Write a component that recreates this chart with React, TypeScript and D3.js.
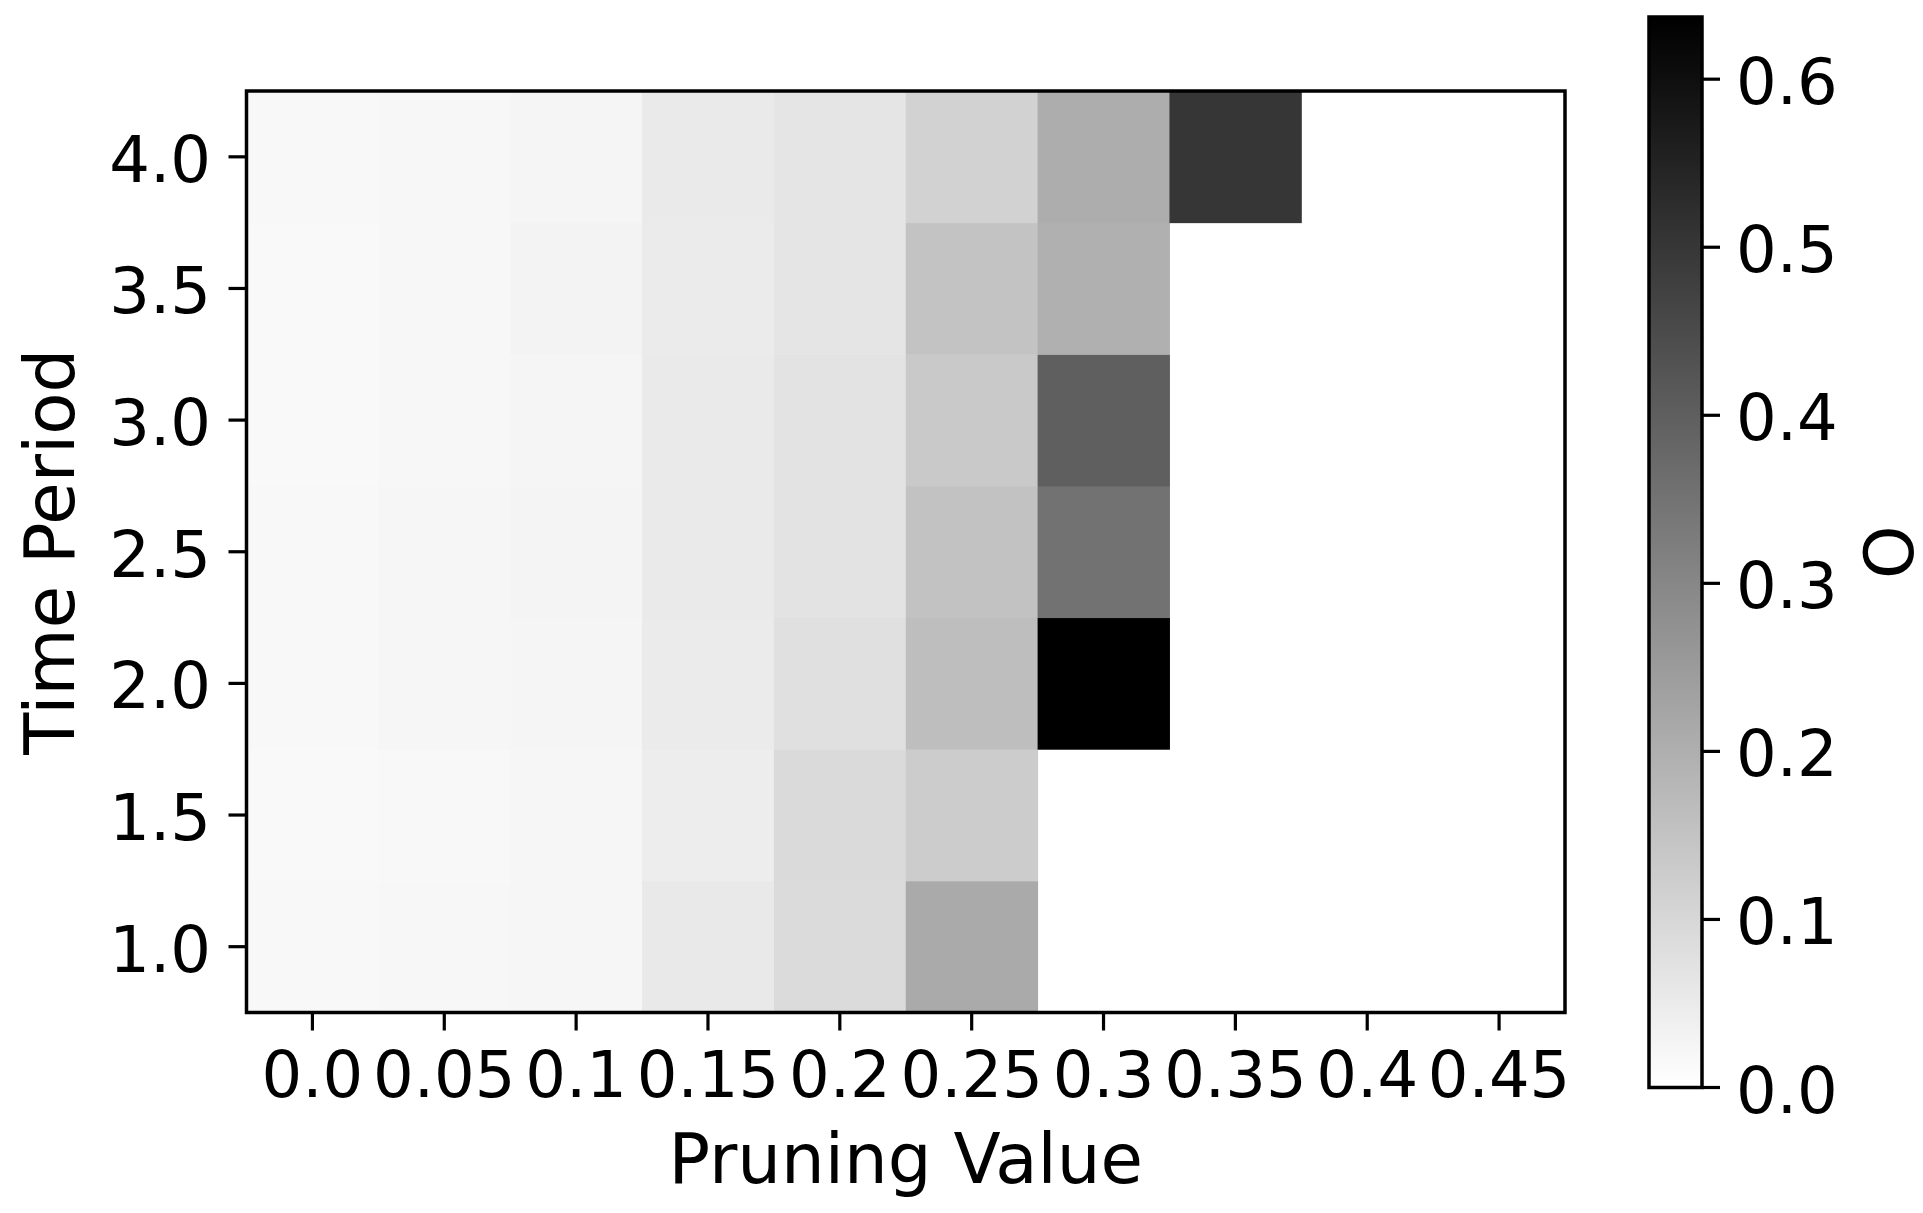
import React from "react";
import * as d3 from "d3";

const pruningValues = ["0.0", "0.05", "0.1", "0.15", "0.2", "0.25", "0.3", "0.35", "0.4", "0.45"];
const timePeriods = ["1.0", "1.5", "2.0", "2.5", "3.0", "3.5", "4.0"];

const period10 = [0.018, 0.020, 0.022, 0.055, 0.090, 0.213, null, null, null, null];
const period15 = [0.015, 0.018, 0.022, 0.045, 0.093, 0.128, null, null, null, null];
const period20 = [0.018, 0.022, 0.025, 0.050, 0.078, 0.163, 0.637, null, null, null];
const period25 = [0.018, 0.022, 0.028, 0.053, 0.070, 0.153, 0.353, null, null, null];
const period30 = [0.015, 0.020, 0.025, 0.053, 0.070, 0.135, 0.400, null, null, null];
const period35 = [0.015, 0.020, 0.030, 0.050, 0.065, 0.150, 0.198, null, null, null];
const period40 = [0.018, 0.020, 0.025, 0.053, 0.065, 0.113, 0.205, 0.503, null, null];

const rows: (number | null)[][] = [period10, period15, period20, period25, period30, period35, period40];

const colorTicks = [0, 0.1, 0.2, 0.3, 0.4, 0.5, 0.6];
const vmin = 0;
const vmax = 0.637;

const W = 1923;
const H = 1213;
const FONT = "DejaVu Sans, sans-serif";

export default function App() {
  const x0 = 246.5, x1 = 1565, y0 = 91, y1 = 1012.5;
  const x = d3.scaleBand<string>().domain(pruningValues).range([x0, x1]).padding(0);
  const y = d3.scaleBand<string>().domain(timePeriods).range([y1, y0]).padding(0);
  const color = d3.scaleLinear<string>().domain([vmin, vmax]).range(["#ffffff", "#000000"]).clamp(true);

  const cbX0 = 1649, cbX1 = 1702, cbTop = 17, cbBot = 1087.5;
  const cbScale = d3.scaleLinear().domain([vmin, vmax]).range([cbBot, cbTop]);

  const cells: JSX.Element[] = [];
  rows.forEach((row, ri) => {
    row.forEach((v, ci) => {
      if (v === null) return;
      const px = x(pruningValues[ci])!;
      const py = y(timePeriods[ri])!;
      cells.push(
        <rect key={`c-${ri}-${ci}`} x={px} y={py} width={x.bandwidth() + 0.5} height={y.bandwidth() + 0.5} fill={color(v)} />
      );
    });
  });

  return (
    <svg width={W} height={H} style={{ position: "absolute", left: 0, top: 0, background: "#fff" }} fontFamily={FONT}>
      <rect x={0} y={0} width={W} height={H} fill="#fff" />
      <defs>
        <linearGradient id="cbgrad" x1="0" y1="1" x2="0" y2="0">
          <stop offset="0%" stopColor={color(vmin)} />
          <stop offset="100%" stopColor={color(vmax)} />
        </linearGradient>
      </defs>
      {cells}
      <rect x={x0} y={y0} width={x1 - x0} height={y1 - y0} fill="none" stroke="#000" strokeWidth={3.5} />
      {pruningValues.map((p) => {
        const cx = x(p)! + x.bandwidth() / 2;
        return (
          <g key={`xt-${p}`}>
            <line x1={cx} x2={cx} y1={y1} y2={y1 + 18} stroke="#000" strokeWidth={3.2} />
            <text x={cx} y={1097} fontSize={64} textAnchor="middle" fill="#000">{p}</text>
          </g>
        );
      })}
      {timePeriods.map((t) => {
        const cy = y(t)! + y.bandwidth() / 2;
        return (
          <g key={`yt-${t}`}>
            <line x1={x0 - 18} x2={x0} y1={cy} y2={cy} stroke="#000" strokeWidth={3.2} />
            <text x={211} y={cy + 25} fontSize={64} textAnchor="end" fill="#000">{t}</text>
          </g>
        );
      })}
      <text x={(x0 + x1) / 2} y={1183} fontSize={69} textAnchor="middle" fill="#000">Pruning Value</text>
      <text transform={`translate(74, ${(y0 + y1) / 2}) rotate(-90)`} fontSize={69} textAnchor="middle" fill="#000">Time Period</text>

      <rect x={cbX0} y={cbTop} width={cbX1 - cbX0} height={cbBot - cbTop} fill="url(#cbgrad)" />
      <rect x={cbX0} y={cbTop} width={cbX1 - cbX0} height={cbBot - cbTop} fill="none" stroke="#000" strokeWidth={3.5} />
      {colorTicks.map((t) => {
        const ty = cbScale(t);
        return (
          <g key={`ct-${t}`}>
            <line x1={cbX1} x2={cbX1 + 18} y1={ty} y2={ty} stroke="#000" strokeWidth={3.2} />
            <text x={1736} y={ty + 25} fontSize={64} textAnchor="start" fill="#000">{t.toFixed(1)}</text>
          </g>
        );
      })}
      <text transform={`translate(1913, ${(cbTop + cbBot) / 2}) rotate(-90)`} fontSize={68} textAnchor="middle" fill="#000">O</text>
    </svg>
  );
}
